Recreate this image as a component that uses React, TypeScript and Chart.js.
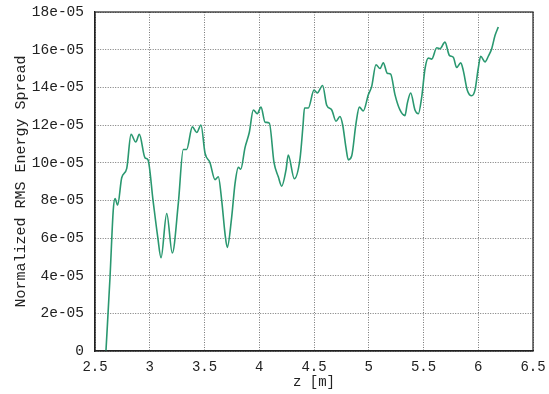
import React, { useEffect, useRef } from "react";
import { Chart, registerables } from "chart.js";

Chart.register(...registerables);

// z position [m]
const zValues: number[] = [
  2.6, 2.637, 2.667, 2.683, 2.707, 2.744, 2.79, 2.829, 2.872, 2.905, 2.957, 2.984,
  3.03, 3.073, 3.103, 3.155, 3.206, 3.261, 3.306, 3.337, 3.389, 3.429, 3.468,
  3.505, 3.55, 3.596, 3.626, 3.657, 3.687, 3.708, 3.748, 3.779, 3.809, 3.831, 3.87,
  3.909, 3.946, 3.982, 4.016, 4.053, 4.092, 4.135, 4.174, 4.205, 4.244, 4.265,
  4.32, 4.372, 4.4, 4.413, 4.448, 4.5, 4.53, 4.579, 4.616, 4.662, 4.701, 4.737,
  4.762, 4.792, 4.813, 4.844, 4.884, 4.914, 4.95, 4.996, 5.027, 5.066, 5.103,
  5.133, 5.169, 5.2, 5.24, 5.285, 5.331, 5.352, 5.383, 5.422, 5.453, 5.484, 5.514,
  5.544, 5.575, 5.621, 5.651, 5.696, 5.736, 5.772, 5.803, 5.84, 5.863, 5.9, 5.94,
  5.97, 6.0, 6.022, 6.062, 6.092, 6.123, 6.153, 6.183,
];

// Normalized RMS energy spread
const spreadValues: number[] = [
  0, 3.9e-5, 7.5e-5, 8.1e-5, 7.75e-5, 9.2e-5, 9.7e-5, 11.5e-5, 11.1e-5, 11.5e-5, 10.25e-5, 10.15e-5,
  8.0e-5, 6.05e-5, 4.95e-5, 7.3e-5, 5.2e-5, 7.85e-5, 10.7e-5, 10.7e-5, 11.9e-5, 11.6e-5, 12.0e-5,
  10.5e-5, 10.0e-5, 9.1e-5, 9.25e-5, 8.0e-5, 6.25e-5, 5.5e-5, 7.1e-5, 8.9e-5, 9.75e-5, 9.65e-5, 10.8e-5,
  11.6e-5, 12.8e-5, 12.6e-5, 12.95e-5, 12.15e-5, 12.1e-5, 10.0e-5, 9.25e-5, 8.75e-5, 9.6e-5, 10.4e-5,
  9.15e-5, 10.2e-5, 12.0e-5, 12.9e-5, 12.9e-5, 13.85e-5, 13.7e-5, 14.1e-5, 13.05e-5, 12.8e-5, 12.2e-5, 12.45e-5,
  12.0e-5, 10.8e-5, 10.15e-5, 10.35e-5, 12.1e-5, 12.95e-5, 12.75e-5, 13.6e-5, 14.05e-5, 15.2e-5, 15.0e-5,
  15.3e-5, 14.75e-5, 14.7e-5, 13.6e-5, 12.8e-5, 12.5e-5, 13.15e-5, 13.7e-5, 12.8e-5, 12.6e-5, 13.5e-5, 15.0e-5,
  15.55e-5, 15.5e-5, 16.1e-5, 16.05e-5, 16.4e-5, 15.7e-5, 15.6e-5, 15.05e-5, 15.3e-5, 14.9e-5, 13.85e-5, 13.55e-5,
  13.85e-5, 15.0e-5, 15.65e-5, 15.35e-5, 15.65e-5, 16.05e-5, 16.75e-5, 17.2e-5,
];

const xTitle = "z [m]";
const yTitle = "Normalized RMS Energy Spread";

const frame = {
  id: "frame",
  afterDatasetsDraw(chart: any) {
    const { ctx, chartArea } = chart;
    ctx.save();
    ctx.strokeStyle = "#222";
    ctx.lineWidth = 1.2;
    ctx.strokeRect(chartArea.left, chartArea.top, chartArea.right - chartArea.left, chartArea.bottom - chartArea.top);
    ctx.restore();
  },
};

export default function App() {
  const ref = useRef<HTMLCanvasElement | null>(null);
  useEffect(() => {
    document.body.style.margin = "0";
    const font = "'Liberation Mono', 'DejaVu Sans Mono', monospace";
    const chart = new Chart(ref.current!, {
      type: "line",
      data: {
        datasets: [
          {
            data: zValues.map((z, i) => ({ x: z, y: spreadValues[i] })),
            borderColor: "#2a9870",
            borderWidth: 1.6,
            pointRadius: 0,
            cubicInterpolationMode: "monotone",
            fill: false,
          },
        ],
      },
      options: {
        responsive: false,
        animation: false,
        layout: { padding: { top: 12, right: 16, left: 0, bottom: 0 } },
        plugins: { legend: { display: false }, tooltip: { enabled: false } },
        scales: {
          x: {
            type: "linear",
            min: 2.5,
            max: 6.5,
            ticks: {
              stepSize: 0.5,
              color: "#222",
              font: { family: font, size: 14 },
              padding: 8,
              maxRotation: 0,
              callback: (v: any) => String(Math.round(Number(v) * 10) / 10),
            },
            grid: { color: "#777", lineWidth: 1, drawTicks: false },
            border: { display: true, color: "#222", width: 1.2, dash: [1, 1.5] },
            title: { display: true, text: xTitle, color: "#222", font: { family: font, size: 14 }, padding: { top: 0, bottom: 3 } },
            afterFit: (s: any) => { s.height = 43; s.paddingLeft = 0; s.paddingRight = 0; },
          },
          y: {
            type: "linear",
            min: 0,
            max: 18e-5,
            ticks: {
              stepSize: 2e-5,
              color: "#222",
              font: { family: font, size: 14.5 },
              padding: 11,
              callback: (v: any) => {
                const n = Math.round(Number(v) * 1e5);
                return n === 0 ? "0" : `${n}e-05`;
              },
            },
            grid: { color: "#777", lineWidth: 1, drawTicks: false },
            border: { display: true, color: "#222", width: 1.2, dash: [1, 1.5] },
            title: { display: true, text: yTitle, color: "#222", font: { family: font, size: 15 }, padding: { top: 12, bottom: 0 } },
            afterFit: (s: any) => { s.width = 95; s.paddingTop = 0; s.paddingBottom = 0; },
          },
        },
      },
      plugins: [frame],
    } as any);
    return () => chart.destroy();
  }, []);
  return (
    <div style={{ position: "fixed", left: 0, top: 0, width: 549, height: 394, background: "#fff" }}>
      <canvas ref={ref} width={549} height={394} />
    </div>
  );
}
